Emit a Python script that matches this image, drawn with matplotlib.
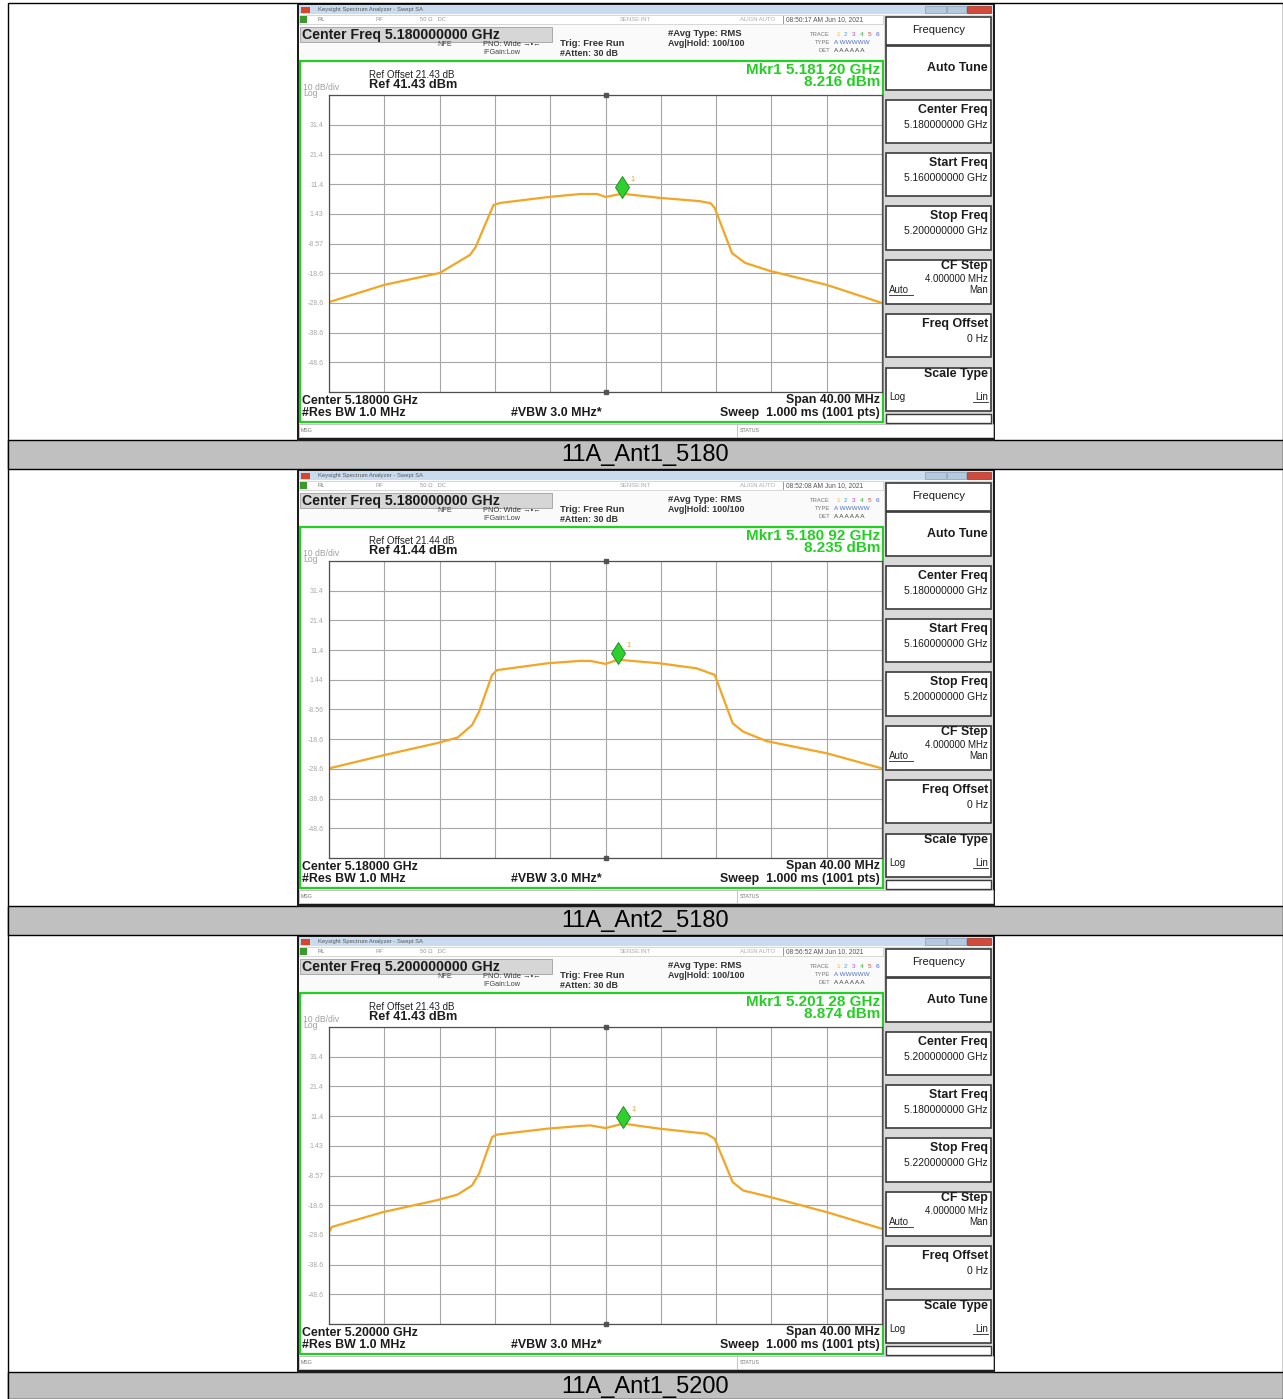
"""Three Keysight spectrum analyzer screens stacked in a report table."""

import matplotlib

matplotlib.use("Agg")
import matplotlib.pyplot as plt
from matplotlib.patches import Rectangle
from matplotlib.transforms import offset_copy

plt.rcParams["font.family"] = ["Liberation Sans", "DejaVu Sans"]

W, H = 1283, 1399

# ---------------------------------------------------------------------------
# Data
# ---------------------------------------------------------------------------

captions = ["11A_Ant1_5180", "11A_Ant2_5180", "11A_Ant1_5200"]
center_mhz = [5180.0, 5180.0, 5200.0]
ref_level = [41.43, 41.44, 41.43]
ref_offset = [21.43, 21.44, 21.43]
mkr_mhz = [5181.20, 5180.92, 5201.28]
mkr_dbm = [8.216, 8.235, 8.874]
timestamps = ["08:50:17 AM Jun 10, 2021", "08:52:08 AM Jun 10, 2021", "08:56:52 AM Jun 10, 2021"]

# trace: offset from centre (MHz) / level (dBm)
ant1_5180_off = [-20.0, -16.0, -12.0, -9.8, -9.4, -8.1, -7.6, -4.1, -1.8, -0.6, 0.0, 1.2,
                 3.9, 6.8, 7.6, 7.9, 9.15, 10.1, 11.9, 16.0, 20.0]
ant1_5180_dbm = [-28.3, -22.5, -18.5, -12.4, -9.8, 4.4, 5.1, 7.1, 8.1, 8.1, 7.1, 8.2,
                 6.8, 5.7, 5.0, 3.4, -11.8, -15.1, -17.8, -22.5, -28.6]

ant2_5180_off = [-20.0, -16.0, -12.2, -10.7, -9.65, -9.15, -8.2, -7.85, -4.2, -1.85, -1.1,
                 0.0, 0.92, 3.9, 6.6, 7.9, 9.2, 9.95, 11.65, 16.0, 20.0]
ant2_5180_dbm = [-28.4, -23.9, -19.9, -18.0, -13.8, -9.3, 3.1, 4.7, 7.0, 7.8, 7.8,
                 6.8, 8.2, 7.0, 5.3, 3.1, -13.2, -16.0, -19.2, -23.3, -28.4]

ant1_5200_off = [-20.0, -19.8, -16.1, -12.2, -10.7, -9.65, -9.15, -8.2, -7.85, -4.2, -1.85,
                 -1.1, 0.0, 1.28, 3.9, 7.3, 7.9, 9.2, 9.95, 11.9, 16.0, 20.0]
ant1_5200_dbm = [-27.6, -25.9, -20.9, -16.9, -15.0, -11.9, -8.0, 4.4, 5.2, 7.2, 8.1,
                 8.3, 7.4, 8.9, 7.2, 5.5, 3.8, -10.8, -13.6, -15.8, -20.9, -26.5]

trace_off = [ant1_5180_off, ant2_5180_off, ant1_5200_off]
trace_dbm = [ant1_5180_dbm, ant2_5180_dbm, ant1_5200_dbm]

span_mhz = 40.0
db_per_div = 10.0

# ---------------------------------------------------------------------------
# Layout (pixels)
# ---------------------------------------------------------------------------

panel_tops = [4, 470, 936]
caption_rows = [(440, 469), (906, 935), (1372, 1399)]
SCR_X0, SCR_X1 = 297, 995
GRID_X0, GRID_X1 = 329, 882
GRID_DY, GRID_H = 91, 297

TRACE_C = "#f3a524"
GREEN = "#22d022"
DARK = "#1c1c1c"
FAINT = "#a0a0a0"

fig = plt.figure(figsize=(W / 100, H / 100), dpi=100)
bg = fig.add_axes([0, 0, 1, 1])
bg.set_xlim(0, W)
bg.set_ylim(H, 0)
bg.axis("off")


def rect(x0, y0, x1, y1, **kw):
    bg.add_patch(Rectangle((x0, y0), x1 - x0, y1 - y0, **kw))


def txt(x, y, s, size=7, weight="normal", color=DARK, ha="left", **kw):
    bg.text(x, y, s, fontsize=size, fontweight=weight, color=color, ha=ha, va="center", **kw)


def softkey(top, y0, y1, title, sub=None):
    rect(886, top + y0, 991, top + y1, facecolor="white", edgecolor="#3a3a3a", lw=1.2)
    if sub is None:
        txt(988, top + (y0 + y1) / 2, title, 8.9, "bold", ha="right")
    else:
        txt(988, top + y0 + 10, title, 8.9, "bold", ha="right")
        txt(988, top + y0 + 25, sub, 7.4, ha="right")


def draw_screen(i):
    top = panel_tops[i]
    c = center_mhz[i]
    ref = ref_level[i]

    # frame of the screenshot
    rect(SCR_X0, top, SCR_X1, top + 437, facecolor=DARK, edgecolor="none")
    rect(SCR_X0 + 2, top + 1, SCR_X1 - 2, top + 434, facecolor="#fafafa", edgecolor="none")

    # window title bar
    rect(SCR_X0 + 2, top + 1, SCR_X1 - 2, top + 10, facecolor="#c9dcef", edgecolor="none")
    rect(301, top + 3, 310, top + 9, facecolor="#d8442c", edgecolor="none")
    txt(318, top + 5.5, "Keysight Spectrum Analyzer - Swept SA", 4.2, color="#555")
    rect(925, top + 2, 946, top + 9, facecolor="#b4c8de", edgecolor="#8aa0b8", lw=0.5)
    rect(947, top + 2, 966, top + 9, facecolor="#b4c8de", edgecolor="#8aa0b8", lw=0.5)
    rect(967, top + 2, 991, top + 9, facecolor="#d24a3c", edgecolor="#a03020", lw=0.5)

    # status row
    rect(299, top + 11, 883, top + 20, facecolor="white", edgecolor="#c8c8c8", lw=0.5)
    rect(300, top + 12, 307, top + 19, facecolor="#3a9a2a", edgecolor="none")
    txt(318, top + 15.5, "RL", 4.2, color="#777")
    txt(375, top + 15.5, "RF", 4.2, color="#999")
    txt(420, top + 15.5, "50 \u03a9   DC", 4.2, color="#999")
    txt(620, top + 15.5, "SENSE:INT", 4.2, color="#aaa")
    txt(740, top + 15.5, "ALIGN AUTO", 4.2, color="#aaa")
    bg.plot([783, 783], [top + 12, top + 19], color="#888", lw=0.6)
    txt(786, top + 15.5, timestamps[i], 4.8, color="#555")

    # settings block
    rect(300, top + 23, 552, top + 38, facecolor="#d6d6d6", edgecolor="#a0a0a0", lw=0.6)
    txt(302, top + 30.5, f"Center Freq {c / 1000:.9f} GHz", 10.2, "bold")
    txt(437, top + 41, "NFE", 5.2, color="#444")
    txt(483, top + 40, "PNO: Wide \u2192\u2022\u2190", 5.4, color="#333")
    txt(483, top + 49, "IFGain:Low", 5.2, color="#444")
    txt(560, top + 39.5, "Trig: Free Run", 6.8, "bold", color="#333")
    txt(560, top + 49, "#Atten: 30 dB", 6.4, "bold", color="#333")
    txt(668, top + 30, "#Avg Type: RMS", 6.8, "bold", color="#333")
    txt(668, top + 39, "Avg|Hold: 100/100", 6.4, "bold", color="#333")
    txt(830, top + 30, "TRACE", 4.2, color="#777", ha="right")
    for k, col in enumerate(["#e8c020", "#40a8e0", "#d040d0", "#40b040", "#e04040", "#4060e0"]):
        txt(836 + k * 8, top + 30, str(k + 1), 4.6, color=col)
    txt(830, top + 38, "TYPE", 4.2, color="#777", ha="right")
    txt(834, top + 38, "A WWWWW", 4.6, color="#5070c0")
    txt(830, top + 46, "DET", 4.2, color="#777", ha="right")
    txt(834, top + 46, "A A A A A A", 4.6, color="#444")

    # green measurement frame
    rect(300, top + 57, 883, top + 418, facecolor="white", edgecolor=GREEN, lw=1.6)
    txt(369, top + 70.5, f"Ref Offset {ref_offset[i]:.2f} dB", 7.0, color="#222")
    txt(369, top + 81.5, f"Ref {ref:.2f} dBm", 9.2, "bold")
    txt(303, top + 83, "10 dB/div", 6.2, color=FAINT)
    txt(303, top + 89.5, "Log", 6.2, color=FAINT)
    ghz = f"{mkr_mhz[i] / 1000:.5f}"
    txt(880, top + 65.5, f"Mkr1 {ghz[:5]} {ghz[5:]} GHz", 11.0, "bold", color=GREEN, ha="right")
    txt(880, top + 78.5, f"{mkr_dbm[i]:.3f} dBm", 11.0, "bold", color=GREEN, ha="right")

    txt(302, top + 396.5, f"Center {c / 1000:.5f} GHz", 8.9, "bold")
    txt(302, top + 409, "#Res BW 1.0 MHz", 8.9, "bold")
    txt(511, top + 409, "#VBW 3.0 MHz*", 8.9, "bold")
    txt(880, top + 396.5, f"Span {span_mhz:.2f} MHz", 8.9, "bold", ha="right")
    txt(880, top + 409, "Sweep  1.000 ms (1001 pts)", 8.9, "bold", ha="right")

    # message / status bar
    rect(299, top + 420, 993, top + 433, facecolor="white", edgecolor="#bbbbbb", lw=0.6)
    bg.plot([737, 737], [top + 420, top + 433], color="#bbbbbb", lw=0.6)
    txt(301, top + 426.5, "MSG", 3.8, color="#777")
    txt(740, top + 426.5, "STATUS", 3.8, color="#777")

    # soft keys
    rect(884, top + 11, 993, top + 420, facecolor="#d9d9d9", edgecolor="none")
    rect(886, top + 13, 991, top + 41, facecolor="white", edgecolor="#3a3a3a", lw=1.2)
    txt(939, top + 26, "Frequency", 8.0, ha="center")
    softkey(top, 42, 86, "Auto Tune")
    softkey(top, 96, 139, "Center Freq", f"{c / 1000:.9f} GHz")
    softkey(top, 149, 192, "Start Freq", f"{(c - span_mhz / 2) / 1000:.9f} GHz")
    softkey(top, 202, 246, "Stop Freq", f"{(c + span_mhz / 2) / 1000:.9f} GHz")
    rect(886, top + 256, 991, top + 300, facecolor="white", edgecolor="#3a3a3a", lw=1.2)
    txt(988, top + 262.5, "CF Step", 8.9, "bold", ha="right")
    txt(988, top + 274.5, "4.000000 MHz", 7.0, ha="right")
    txt(889, top + 286, "Auto", 7.0, ha="left", color="#222")
    bg.plot([889, 913], [top + 290.5, top + 290.5], color="#222", lw=0.6)
    txt(988, top + 286, "Man", 7.0, ha="right")
    softkey(top, 310, 353, "Freq Offset", "0 Hz")
    rect(886, top + 364, 991, top + 407, facecolor="white", edgecolor="#3a3a3a", lw=1.2)
    txt(988, top + 370, "Scale Type", 8.9, "bold", ha="right")
    txt(889, top + 393, "Log", 7.0)
    txt(988, top + 393, "Lin", 7.0, ha="right")
    bg.plot([973, 988], [top + 397.5, top + 397.5], color="#222", lw=0.6)
    rect(886, top + 410, 991, top + 419, facecolor="white", edgecolor="#3a3a3a", lw=1.0)

    # trace graticule
    ax = fig.add_axes([GRID_X0 / W, 1 - (top + GRID_DY + GRID_H) / H,
                       (GRID_X1 - GRID_X0) / W, GRID_H / H])
    f0, f1 = c - span_mhz / 2, c + span_mhz / 2
    ax.set_xlim(f0, f1)
    ax.set_ylim(ref - 10 * db_per_div, ref)
    ax.set_xticks([f0 + k * span_mhz / 10 for k in range(11)])
    ax.set_xticklabels([])
    levels = [ref - k * db_per_div for k in range(11)]
    ax.set_yticks(levels)
    ax.set_yticklabels(["" if k in (0, 10) else f"{lv:.3g}" for k, lv in enumerate(levels)])
    ax.tick_params(length=0, labelsize=5.0, labelcolor="#a8a8a8", pad=4)
    ax.grid(True, color="#a6a6a6", lw=0.8)
    ax.set_axisbelow(True)
    for s in ax.spines.values():
        s.set_color("#505050")
        s.set_linewidth(0.9)
    ax.plot([c, c], [ref, ref - 10 * db_per_div], ls="none", marker="s", ms=2.2,
            color="#555", clip_on=False)

    xs = [c + o for o in trace_off[i]]
    ax.plot(xs, trace_dbm[i], color=TRACE_C, lw=1.6, solid_joinstyle="round")

    up = offset_copy(ax.transData, fig=fig, x=0, y=7, units="dots")
    ax.plot([mkr_mhz[i]], [mkr_dbm[i]], marker="d", ms=11.5, color="#2fcf2f",
            mec="#138a13", mew=0.6, transform=up, clip_on=False)
    lab = offset_copy(ax.transData, fig=fig, x=8, y=14, units="dots")
    ax.text(mkr_mhz[i], mkr_dbm[i], "1", fontsize=5.2, color="#f0a020", transform=lab,
            ha="left", va="center")


# table: outer border, caption bands
rect(8, 3, 1282.5, H, facecolor="white", edgecolor="black", lw=1.0)
for i, (y0, y1) in enumerate(caption_rows):
    rect(8, y0, 1282.5, y1, facecolor="#c0c0c0", edgecolor="black", lw=1.0)
    txt(645.5, (y0 + y1) / 2 + 1, captions[i], 17.0, ha="center", color="black")

for i in range(3):
    draw_screen(i)

fig.savefig("out.png", dpi=100)
